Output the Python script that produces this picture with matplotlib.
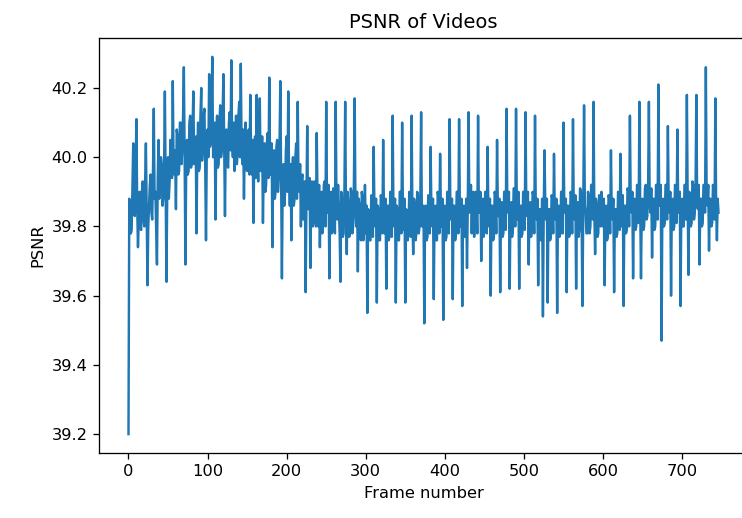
import numpy as np
import matplotlib
matplotlib.use("Agg")
import matplotlib.pyplot as plt

# PSNR per frame (frames 0 .. 746)
psnr = [
    39.20, 39.88, 39.86, 39.78, 39.79, 39.92, 40.04, 39.85, 39.83, 39.95, 40.11, 39.86,
    39.74, 39.82, 39.90, 39.80, 39.79, 39.90, 39.93, 39.82, 39.80, 39.92, 40.04, 39.85,
    39.63, 39.80, 39.86, 39.92, 39.95, 39.84, 39.82, 39.96, 40.14, 39.88, 39.90, 39.80,
    39.69, 39.94, 40.05, 39.88, 39.91, 40.00, 39.98, 39.86, 39.88, 39.97, 40.19, 39.92,
    39.64, 39.90, 40.00, 39.88, 39.93, 40.05, 40.03, 39.94, 40.22, 39.98, 39.95, 40.02,
    39.85, 40.08, 40.06, 39.95, 39.96, 40.10, 40.10, 39.98, 40.02, 40.12, 40.26, 40.00,
    39.69, 39.98, 40.05, 39.95, 39.96, 40.10, 40.12, 39.97, 39.98, 40.08, 40.19, 39.98,
    40.00, 40.06, 39.78, 40.02, 40.10, 39.96, 39.97, 40.12, 40.20, 39.99, 40.03, 40.12,
    40.14, 39.98, 39.76, 40.02, 40.08, 40.00, 40.24, 40.03, 40.04, 40.14, 40.29, 40.00,
    40.06, 40.10, 39.82, 40.05, 40.12, 39.97, 39.98, 40.10, 40.15, 40.00, 40.02, 40.12,
    40.24, 40.02, 39.83, 40.06, 40.08, 39.98, 39.97, 40.10, 40.13, 40.02, 40.28, 40.04,
    40.00, 40.10, 39.96, 40.04, 40.12, 39.98, 40.01, 40.12, 40.16, 40.00, 40.27, 40.03,
    39.98, 40.08, 39.88, 40.04, 40.10, 39.97, 39.96, 40.06, 40.08, 39.95, 40.18, 40.02,
    39.95, 40.05, 39.81, 40.00, 40.06, 39.94, 40.18, 40.00, 39.93, 40.04, 40.17, 39.96,
    39.97, 40.06, 39.81, 39.98, 40.04, 39.90, 39.92, 40.04, 40.07, 39.94, 40.23, 39.98,
    39.95, 40.04, 39.74, 39.98, 40.02, 39.88, 39.90, 40.03, 40.05, 39.90, 39.94, 40.04,
    40.22, 39.92, 39.65, 39.94, 39.98, 39.86, 39.90, 40.02, 40.06, 39.90, 40.19, 39.95,
    39.86, 39.98, 39.76, 39.96, 40.00, 39.86, 39.88, 40.00, 40.04, 39.88, 40.16, 39.92,
    39.90, 39.98, 39.80, 39.94, 39.95, 39.82, 39.84, 39.93, 39.61, 39.88, 40.09, 39.85,
    39.86, 39.94, 39.68, 39.90, 39.93, 39.80, 39.82, 39.93, 39.92, 39.80, 40.07, 39.88,
    39.80, 39.92, 39.74, 39.88, 39.90, 39.78, 39.82, 39.92, 39.93, 39.80, 40.16, 39.86,
    39.84, 39.92, 39.65, 39.88, 39.90, 39.78, 39.79, 39.91, 39.88, 39.78, 40.16, 39.86,
    39.82, 39.92, 39.85, 39.78, 39.64, 39.90, 39.88, 39.77, 39.78, 39.90, 40.16, 39.84,
    39.72, 39.90, 39.86, 39.77, 39.78, 39.91, 39.90, 39.78, 39.80, 39.92, 40.17, 39.84,
    39.80, 39.90, 39.67, 39.88, 39.86, 39.77, 39.76, 39.90, 39.88, 39.76, 39.82, 39.92,
    39.78, 39.86, 39.55, 39.85, 39.84, 39.76, 39.76, 39.89, 39.87, 39.77, 40.03, 39.84,
    39.80, 39.88, 39.58, 39.86, 39.85, 39.76, 39.76, 39.89, 39.88, 39.78, 40.05, 39.84,
    39.78, 39.88, 39.62, 39.86, 39.86, 39.76, 39.77, 39.90, 39.88, 39.77, 40.12, 39.84,
    39.80, 39.88, 39.58, 39.86, 39.85, 39.76, 39.76, 39.90, 39.90, 39.78, 40.10, 39.84,
    39.79, 39.88, 39.58, 39.85, 39.84, 39.76, 39.78, 39.90, 39.88, 39.77, 40.12, 39.82,
    39.72, 39.88, 39.86, 39.76, 39.78, 39.90, 39.89, 39.78, 39.80, 39.88, 40.13, 39.80,
    39.84, 39.86, 39.52, 39.84, 39.86, 39.76, 39.77, 39.89, 39.88, 39.78, 40.03, 39.84,
    39.80, 39.88, 39.59, 39.85, 39.86, 39.76, 39.76, 39.90, 39.88, 39.78, 40.01, 39.84,
    39.80, 39.88, 39.53, 39.85, 39.86, 39.76, 39.77, 39.90, 39.89, 39.78, 40.11, 39.84,
    39.82, 39.88, 39.59, 39.86, 39.86, 39.76, 39.78, 39.90, 39.90, 39.78, 40.11, 39.84,
    39.80, 39.88, 39.57, 39.85, 39.86, 39.77, 39.78, 39.88, 39.68, 39.86, 40.13, 39.84,
    39.85, 39.92, 39.78, 39.88, 39.90, 39.77, 39.80, 39.90, 39.88, 39.78, 40.12, 39.84,
    39.84, 39.90, 39.70, 39.86, 39.88, 39.77, 39.79, 39.90, 39.90, 39.78, 40.03, 39.85,
    39.80, 39.88, 39.60, 39.86, 39.86, 39.76, 39.77, 39.90, 39.89, 39.78, 40.05, 39.85,
    39.83, 39.88, 39.61, 39.86, 39.87, 39.77, 39.78, 39.90, 39.90, 39.79, 40.14, 39.85,
    39.84, 39.90, 39.62, 39.86, 39.87, 39.77, 39.79, 39.91, 39.91, 39.80, 40.14, 39.85,
    39.82, 39.90, 39.62, 39.86, 39.86, 39.77, 39.78, 39.90, 39.90, 39.79, 40.13, 39.85,
    39.83, 39.90, 39.69, 39.86, 39.87, 39.77, 39.79, 39.90, 39.89, 39.78, 40.12, 39.84,
    39.82, 39.88, 39.63, 39.85, 39.85, 39.76, 39.77, 39.88, 39.54, 39.84, 40.02, 39.86,
    39.82, 39.88, 39.58, 39.85, 39.85, 39.76, 39.77, 39.89, 39.88, 39.78, 40.01, 39.84,
    39.82, 39.88, 39.55, 39.85, 39.86, 39.77, 39.78, 39.90, 39.90, 39.78, 40.10, 39.85,
    39.84, 39.88, 39.61, 39.86, 39.86, 39.77, 39.78, 39.90, 39.89, 39.78, 40.11, 39.84,
    39.82, 39.89, 39.62, 39.86, 39.87, 39.77, 39.79, 39.91, 39.90, 39.80, 39.57, 39.88,
    40.15, 39.86, 39.84, 39.78, 39.78, 39.90, 39.88, 39.78, 39.80, 39.92, 39.92, 39.82,
    40.16, 39.84, 39.72, 39.88, 39.86, 39.77, 39.78, 39.89, 39.88, 39.80, 39.90, 39.84,
    39.80, 39.88, 39.63, 39.85, 39.86, 39.76, 39.77, 39.89, 39.88, 39.78, 40.02, 39.84,
    39.82, 39.88, 39.61, 39.85, 39.85, 39.77, 39.78, 39.90, 39.89, 39.79, 40.01, 39.85,
    39.80, 39.89, 39.57, 39.86, 39.86, 39.78, 39.79, 39.91, 39.90, 39.80, 40.12, 39.86,
    39.84, 39.90, 39.65, 39.87, 39.88, 39.79, 39.80, 39.92, 39.91, 39.81, 40.16, 39.86,
    39.65, 39.86, 39.88, 39.79, 39.80, 39.91, 39.92, 39.82, 39.83, 39.92, 40.16, 39.86,
    39.84, 39.91, 39.71, 39.88, 39.88, 39.79, 39.80, 39.92, 39.92, 39.82, 40.21, 39.88,
    39.86, 39.92, 39.47, 39.86, 39.88, 39.80, 39.81, 39.92, 39.92, 39.82, 40.09, 39.86,
    39.84, 39.90, 39.60, 39.87, 39.88, 39.79, 39.80, 39.92, 39.91, 39.81, 40.08, 39.86,
    39.84, 39.90, 39.57, 39.87, 39.88, 39.80, 39.80, 39.92, 39.92, 39.82, 40.18, 39.88,
    39.66, 39.90, 39.88, 39.80, 39.81, 39.93, 39.92, 39.82, 39.84, 39.92, 40.18, 39.86,
    39.85, 39.92, 39.69, 39.88, 39.88, 39.80, 39.81, 39.92, 39.92, 39.84, 40.26, 39.88,
    39.86, 39.92, 39.73, 39.88, 39.88, 39.80, 39.81, 39.92, 39.90, 39.82, 40.17, 39.86,
    39.76, 39.88, 39.84,
]
frames = np.arange(len(psnr))

fig = plt.figure(figsize=(742 / 117, 518 / 117), dpi=117)
ax = fig.add_axes([0.1334, 0.1255, 0.8747, 0.8012])
ax.plot(frames, psnr)
ax.set_title("PSNR of Videos")
ax.set_xlabel("Frame number")
ax.set_ylabel("PSNR")

fig.savefig("out.png", dpi=117)
